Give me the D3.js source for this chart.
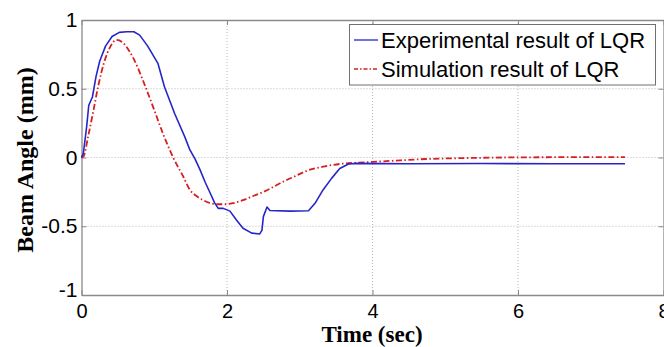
<!DOCTYPE html>
<html>
<head>
<meta charset="utf-8">
<script src="https://cdn.jsdelivr.net/npm/d3@7"></script>
<style>
  html, body { margin: 0; padding: 0; background: #fff; }
  svg { display: block; }
</style>
</head>
<body>
<svg id="chart" width="664" height="347"></svg>
<script>
// ---- data ----
const expTime = [0, 0.025, 0.07, 0.10, 0.15, 0.20, 0.25, 0.33, 0.42, 0.52, 0.62, 0.72, 0.80, 0.91, 1.05, 1.14, 1.28, 1.42, 1.49, 1.56, 1.63, 1.70, 1.77, 1.83, 1.88, 1.95, 2.04, 2.13, 2.22, 2.34, 2.45, 2.48, 2.50, 2.55, 2.59, 2.87, 3.12, 3.21, 3.32, 3.44, 3.55, 3.67, 3.78, 4.5, 5.5, 6.5, 7.47];
const expAngle = [0, 0.03, 0.22, 0.38, 0.44, 0.59, 0.70, 0.81, 0.88, 0.91, 0.915, 0.915, 0.89, 0.81, 0.685, 0.515, 0.32, 0.15, 0.055, -0.01, -0.09, -0.18, -0.26, -0.33, -0.37, -0.37, -0.39, -0.455, -0.515, -0.55, -0.556, -0.53, -0.43, -0.36, -0.385, -0.39, -0.387, -0.333, -0.236, -0.15, -0.08, -0.047, -0.043, -0.045, -0.044, -0.045, -0.045];

const simTime = [0, 0.03, 0.09, 0.16, 0.23, 0.31, 0.40, 0.48, 0.57, 0.65, 0.72, 0.86, 1.0, 1.13, 1.26, 1.40, 1.49, 1.58, 1.67, 1.76, 1.86, 2.0, 2.1, 2.22, 2.36, 2.50, 2.64, 2.77, 2.94, 3.10, 3.32, 3.55, 3.78, 4.0, 4.24, 4.74, 5.2, 5.8, 6.4, 7.0, 7.47];
const simAngle = [0, 0.01, 0.15, 0.33, 0.52, 0.69, 0.81, 0.855, 0.835, 0.78, 0.715, 0.54, 0.345, 0.16, 0.0, -0.14, -0.236, -0.28, -0.31, -0.33, -0.34, -0.34, -0.33, -0.31, -0.28, -0.25, -0.213, -0.176, -0.135, -0.096, -0.067, -0.047, -0.038, -0.032, -0.025, -0.011, -0.005, 0, 0.002, 0.003, 0.003];

const xTicks = [0, 2, 4, 6, 8];
const yTicks = [-1, -0.5, 0, 0.5, 1];
const seriesNames = ["Experimental result of LQR", "Simulation result of LQR"];
const xLabel = "Time (sec)";
const yLabel = "Beam Angle (mm)";

// ---- layout ----
const svg = d3.select("#chart");
const L = 81.5, R = 663.5, T = 20, B = 295;
const x = d3.scaleLinear().domain([0, 8]).range([L, R]);
const y = d3.scaleLinear().domain([-1, 1]).range([B, T]);
const sansFont = "'Liberation Sans', Arial, sans-serif";
const serifFont = "'Liberation Serif', 'Times New Roman', serif";
const blue = "#2626c8";
const red = "#d81e1e";
const axisGray = "#8a8a8a";

// grid
const grid = svg.append("g");
grid.selectAll("line.gx").data(xTicks.filter(d => d > 0 && d < 8)).join("line")
  .attr("x1", d => x(d)).attr("x2", d => x(d)).attr("y1", T).attr("y2", B)
  .attr("stroke", "#b8b8b8").attr("stroke-width", 1).attr("stroke-dasharray", "1,2");
grid.selectAll("line.gy").data(yTicks.filter(d => d > -1 && d < 1)).join("line")
  .attr("x1", L).attr("x2", R).attr("y1", d => y(d)).attr("y2", d => y(d))
  .attr("stroke", "#b8b8b8").attr("stroke-width", 1).attr("stroke-dasharray", "1,2");

// axes
const fmt = d => String(d);
const xAxis = svg.append("g").attr("transform", `translate(0,${B})`)
  .call(d3.axisBottom(x).tickValues(xTicks).tickFormat(fmt).tickSizeInner(-5).tickSizeOuter(0).tickPadding(9));
const yAxis = svg.append("g").attr("transform", `translate(${L},0)`)
  .call(d3.axisLeft(y).tickValues(yTicks).tickFormat(fmt).tickSizeInner(-5).tickSizeOuter(0).tickPadding(4));
const topAxis = svg.append("g").attr("transform", `translate(0,${T})`)
  .call(d3.axisTop(x).tickValues(xTicks).tickFormat("").tickSizeInner(-5).tickSizeOuter(0));
const rightAxis = svg.append("g").attr("transform", `translate(${R},0)`)
  .call(d3.axisRight(y).tickValues(yTicks).tickFormat("").tickSizeInner(-5).tickSizeOuter(0));
[xAxis, yAxis, topAxis, rightAxis].forEach(g => {
  g.select(".domain").attr("stroke", axisGray).attr("stroke-width", 1.3);
  g.selectAll(".tick line").attr("stroke", axisGray);
  g.selectAll(".tick text").attr("fill", "#000").attr("font-family", sansFont);
});
xAxis.selectAll(".tick text").attr("font-size", 20);
yAxis.selectAll(".tick text").attr("font-size", 21);
yAxis.selectAll(".tick").filter(d => d === -1).select("text").attr("dy", "0.05em");

// lines
const expData = expTime.map((t, i) => [t, expAngle[i]]);
const simData = simTime.map((t, i) => [t, simAngle[i]]);
const lineLin = d3.line().x(d => x(d[0])).y(d => y(d[1]));
const lineSmooth = d3.line().x(d => x(d[0])).y(d => y(d[1])).curve(d3.curveMonotoneX);

svg.append("path").datum(simData).attr("d", lineSmooth)
  .attr("fill", "none").attr("stroke", red).attr("stroke-width", 1.8)
  .attr("stroke-dasharray", "6,2.5,1.5,2.5");
svg.append("path").datum(expData).attr("d", lineLin)
  .attr("fill", "none").attr("stroke", blue).attr("stroke-width", 1.6)
  .attr("stroke-linejoin", "round");

// axis labels
svg.append("text").attr("x", 372).attr("y", 342).attr("text-anchor", "middle")
  .attr("font-family", serifFont).attr("font-weight", "bold").attr("font-size", 23)
  .attr("fill", "#000").text(xLabel);
svg.append("text").attr("transform", "translate(33,160) rotate(-90)").attr("text-anchor", "middle")
  .attr("font-family", serifFont).attr("font-weight", "bold").attr("font-size", 24)
  .attr("fill", "#000").text(yLabel);

// legend
const leg = svg.append("g");
leg.append("rect").attr("x", 349.5).attr("y", 24.5).attr("width", 306).attr("height", 60.5)
  .attr("fill", "#fff").attr("stroke", "#707070").attr("stroke-width", 1);
const legColors = [blue, red];
const legDash = [null, "4,2,1.5,2"];
seriesNames.forEach((name, i) => {
  const cy = 40 + i * 29;
  leg.append("line").attr("x1", 354).attr("x2", 378).attr("y1", cy).attr("y2", cy)
    .attr("stroke", legColors[i]).attr("stroke-width", 1.3)
    .attr("stroke-dasharray", legDash[i]);
  leg.append("text").attr("x", 381).attr("y", cy + 8.3)
    .attr("font-family", sansFont).attr("font-size", 22).attr("fill", "#000").text(name);
});
</script>
</body>
</html>
